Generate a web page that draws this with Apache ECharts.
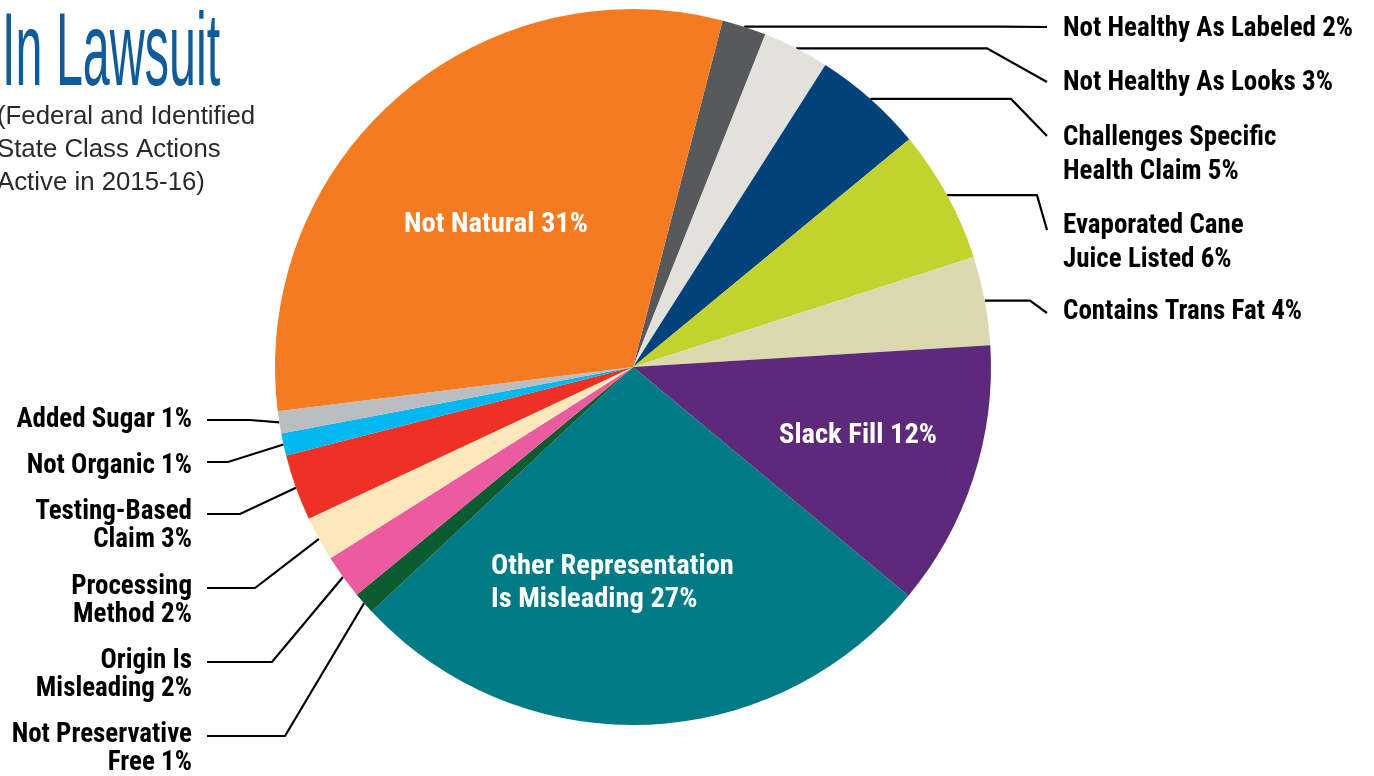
<!DOCTYPE html>
<html>
<head>
<meta charset="utf-8">
<title>Claims In Lawsuit</title>
<script src="https://cdn.jsdelivr.net/npm/echarts@6/dist/echarts.min.js"></script>
<style>
  html, body { margin: 0; padding: 0; background: #fff; }
  #chart { width: 1374px; height: 776px; }
</style>
</head>
<body>
<div id="chart"></div>
<script>
// slices in clockwise order, starting with the thin dark grey one at the top
const claimNames = [
  'Not Healthy As Labeled',
  'Not Healthy As Looks',
  'Challenges Specific\nHealth Claim',
  'Evaporated Cane\nJuice Listed',
  'Contains Trans Fat',
  'Slack Fill',
  'Other Representation\nIs Misleading',
  'Not Preservative\nFree',
  'Origin Is\nMisleading',
  'Processing\nMethod',
  'Testing-Based\nClaim',
  'Not Organic',
  'Added Sugar',
  'Not Natural'
]
const claimShares = [2, 3, 5, 6, 4, 12, 27, 1, 2, 2, 3, 1, 1, 31]
const sliceColors = [
  '#58595b', '#e2e1dc', '#00437a', '#c2d22f', '#dcd9b1', '#5d297b', '#007b86',
  '#0b5b30', '#ec5a9f', '#fde8bb', '#ee3124', '#00b7f0', '#bcbdc0', '#f47b21'
]
const insideNames = ['Slack Fill', 'Other Representation\nIs Misleading', 'Not Natural']

const titleText = 'In Lawsuit'
const subtitleLines = ['(Federal and Identified', 'State Class Actions', 'Active in 2015-16)']

const boldFont = '"Roboto Condensed", "DejaVu Sans Condensed", sans-serif'

// label placement: y = centre of first text line, bend = x where the leader line turns
const labelSpots = [
  { side: 'right', y: 29, bend: 1000, endY: 27 },
  { side: 'right', y: 83, bend: 987, endY: 82 },
  { side: 'right', y: 138, bend: 1011, endY: 136 },
  { side: 'right', y: 226, bend: 1037, endY: 230 },
  { side: 'right', y: 312, bend: 1030, endY: 313 },
  { side: 'in', x: 858, y: 436, align: 'center' },
  { side: 'in', x: 491, y: 567, align: 'left' },
  { side: 'left', y: 735, bend: 285, lineY: 736 },
  { side: 'left', y: 661, bend: 272, lineY: 662 },
  { side: 'left', y: 587, bend: 255, lineY: 588 },
  { side: 'left', y: 512, bend: 240, lineY: 514 },
  { side: 'left', y: 466, bend: 228, lineY: 462 },
  { side: 'left', y: 420, bend: 250, lineY: 420 },
  { side: 'in', x: 496, y: 225, align: 'center' }
]
const rightTextX = 1063
const rightLineEnd = 1047
const leftTextX = 192
const leftLineEnd = 207

const chart = echarts.init(document.getElementById('chart'))

const pieData = claimNames.map((name, i) => {
  const inside = insideNames.includes(name)
  const spot = labelSpots[i]
  return {
    name: name,
    value: claimShares[i],
    itemStyle: { color: sliceColors[i] },
    label: inside
      ? { position: 'inside', color: '#fff', fontSize: 28.5, lineHeight: 33 }
      : { position: 'outside', color: '#000', lineHeight: spot.side === 'right' ? 34 : 28 },
    labelLine: { show: !inside }
  }
})

function placeLabel(params) {
  const spot = labelSpots[params.dataIndex]
  const lh = spot.side === 'right' ? 34 : (spot.side === 'left' ? 28 : 33)
  if (spot.side === 'in') {
    return { x: spot.x, y: spot.y - lh / 2, align: spot.align, verticalAlign: 'top' }
  }
  const pts = params.labelLinePoints
  const start = pts && pts.length ? pts[0] : null
  if (spot.side === 'right') {
    const out = { x: rightTextX, y: spot.y - lh / 2, align: 'left', verticalAlign: 'top' }
    if (start) out.labelLinePoints = [start, [spot.bend, start[1]], [rightLineEnd, spot.endY]]
    return out
  }
  const out = { x: leftTextX, y: spot.y - lh / 2, align: 'right', verticalAlign: 'top' }
  if (start) out.labelLinePoints = [start, [spot.bend, spot.lineY], [leftLineEnd, spot.lineY]]
  return out
}

const option = {
  backgroundColor: '#fff',
  animation: false,
  graphic: [
    {
      type: 'text',
      x: 2,
      y: 56,
      scaleX: 0.466,
      style: {
        text: titleText,
        font: '400 104px "Liberation Sans", sans-serif',
        fill: '#105b98',
        textAlign: 'left',
        textVerticalAlign: 'middle'
      }
    },
    {
      type: 'text',
      x: -3,
      y: 100,
      style: {
        text: subtitleLines.join('\n'),
        font: '400 25.8px "Liberation Sans", Arial, sans-serif',
        lineHeight: 33,
        fill: '#2a2a2a',
        textAlign: 'left',
        textVerticalAlign: 'top'
      }
    }
  ],
  series: [
    {
      type: 'pie',
      center: [633, 367],
      radius: 358,
      startAngle: 75.5,
      clockwise: true,
      avoidLabelOverlap: false,
      emphasis: { disabled: true },
      label: {
        formatter: '{b} {c}%',
        fontFamily: boldFont,
        fontWeight: 'bold',
        fontSize: 27
      },
      labelLine: {
        length: 10,
        length2: 10,
        lineStyle: { color: '#000', width: 2.2 }
      },
      labelLayout: placeLabel,
      data: pieData
    }
  ]
}

chart.setOption(option)
</script>
</body>
</html>
